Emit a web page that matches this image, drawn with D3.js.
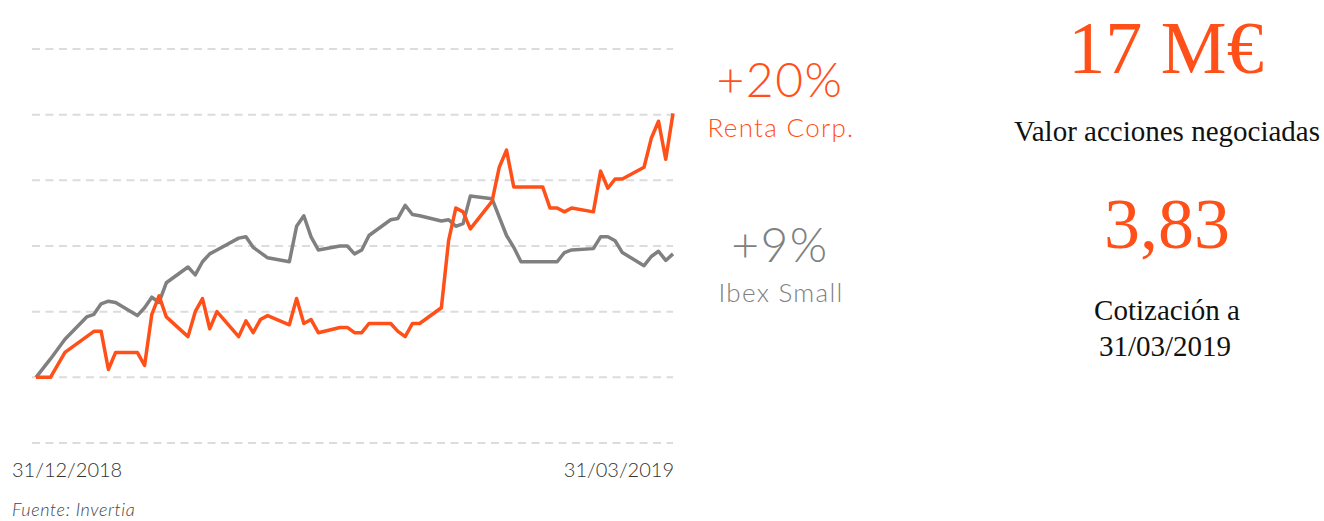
<!DOCTYPE html>
<html>
<head>
<meta charset="utf-8">
<script src="https://cdn.jsdelivr.net/npm/d3@7"></script>
<style>
  body { margin: 0; background: #fff; }
  svg { display: block; }
</style>
</head>
<body>
<div class="visContainer"></div>
<script>
// Data: % change since 31/12/2018 (trading days).
const fechas = ['2018-12-31','2019-01-02','2019-01-04','2019-01-07','2019-01-08','2019-01-09','2019-01-10','2019-01-11',
  '2019-01-14','2019-01-15','2019-01-16','2019-01-17','2019-01-18','2019-01-21','2019-01-22','2019-01-23','2019-01-24','2019-01-25',
  '2019-01-28','2019-01-29','2019-01-30','2019-01-31','2019-02-01','2019-02-04','2019-02-05','2019-02-06','2019-02-07','2019-02-08',
  '2019-02-11','2019-02-12','2019-02-13','2019-02-14','2019-02-15','2019-02-18','2019-02-19','2019-02-20','2019-02-21','2019-02-22',
  '2019-02-25','2019-02-26','2019-02-27','2019-02-28','2019-03-01','2019-03-04','2019-03-05','2019-03-06','2019-03-07','2019-03-08',
  '2019-03-11','2019-03-12','2019-03-13','2019-03-14','2019-03-15','2019-03-18','2019-03-19','2019-03-20','2019-03-21','2019-03-22',
  '2019-03-25','2019-03-26','2019-03-27','2019-03-28','2019-03-29'];

const rentaCorp = [0, 0, 1.9, 3.1, 3.5, 3.5, 0.6, 1.9,
  1.9, 0.9, 4.8, 6.2, 4.6, 3.1, 5.0, 6.0, 3.7, 5.0,
  3.1, 4.3, 3.4, 4.4, 4.7, 4.0, 6.0, 4.1, 4.4, 3.4,
  3.8, 3.8, 3.4, 3.4, 4.1, 4.1, 3.5, 3.1, 4.1, 4.1,
  5.3, 10.4, 12.9, 12.6, 11.3, 13.4, 16.0, 17.3, 14.5, 14.5,
  14.5, 12.9, 12.9, 12.6, 12.9, 12.6, 15.7, 14.4, 15.1, 15.1,
  16.0, 18.2, 19.5, 16.6, 20.1];

const ibexSmall = [0, 1.4, 2.9, 4.6, 4.8, 5.6, 5.8, 5.7,
  4.7, 5.3, 6.1, 5.7, 7.2, 8.4, 7.8, 8.8, 9.4, 9.7,
  10.6, 10.7, 9.9, 9.5, 9.1, 8.8, 11.5, 12.3, 10.7, 9.7,
  10.0, 10.0, 9.4, 9.7, 10.8, 12.0, 12.1, 13.1, 12.4, 12.3,
  11.9, 12.0, 11.5, 11.7, 13.8, 13.6, 12.2, 10.8, 9.9, 8.8,
  8.8, 8.8, 8.8, 9.5, 9.7, 9.8, 10.7, 10.7, 10.4, 9.5,
  8.5, 9.2, 9.6, 8.9, 9.4];

const gridTicks = [-5, 0, 5, 10, 15, 20, 25];
const xLabels = ['31/12/2018', '31/03/2019'];

const naranja = '#ff5019';
const gris = '#808080';

const width = 1324;
const height = 521;

const parse = d3.timeParse('%Y-%m-%d');
const dates = fechas.map(parse);

const xScale = d3.scaleTime()
  .domain(d3.extent(dates))
  .range([36, 673]);

const yScale = d3.scaleLinear()
  .domain([-5, 25])
  .range([443, 49]);

const svg = d3.select('.visContainer')
  .append('svg')
  .attr('width', width)
  .attr('height', height);

// Dashed grid.
svg.append('g')
  .selectAll('line')
  .data(gridTicks)
  .enter()
  .append('line')
  .attr('x1', 32)
  .attr('x2', 673)
  .attr('y1', (d) => yScale(d))
  .attr('y2', (d) => yScale(d))
  .attr('stroke', '#dcdcdc')
  .attr('stroke-width', 2)
  .attr('stroke-dasharray', '8,5.5');

const line = d3.line()
  .x((d, i) => xScale(dates[i]))
  .y((d) => yScale(d));

// Ibex first, Renta Corp on top where they cross.
svg.append('path')
  .datum(ibexSmall)
  .attr('d', line)
  .attr('fill', 'none')
  .attr('stroke', gris)
  .attr('stroke-width', 3.5)
  .attr('stroke-linejoin', 'round');

svg.append('path')
  .datum(rentaCorp)
  .attr('d', line)
  .attr('fill', 'none')
  .attr('stroke', naranja)
  .attr('stroke-width', 3.5)
  .attr('stroke-linejoin', 'round');

// X labels at both ends.
const sans = 'Lato, "Noto Sans", sans-serif';
svg.append('text')
  .attr('x', 12)
  .attr('y', 477)
  .attr('font-family', sans)
  .attr('font-weight', 300)
  .attr('font-size', '20px')
  .attr('fill', '#333')
  .text(xLabels[0]);

svg.append('text')
  .attr('x', 674)
  .attr('y', 477)
  .attr('text-anchor', 'end')
  .attr('font-family', sans)
  .attr('font-weight', 300)
  .attr('font-size', '20px')
  .attr('fill', '#333')
  .text(xLabels[1]);

svg.append('text')
  .attr('x', 12)
  .attr('y', 516)
  .attr('font-family', sans)
  .attr('font-style', 'italic')
  .attr('font-weight', 300)
  .attr('font-size', '18px')
  .attr('letter-spacing', '0.6px')
  .attr('fill', '#444')
  .text('Fuente: Invertia');

// Series labels.
const labels = [
  { big: '+20%', small: 'Renta Corp.', color: naranja, y: 97 },
  { big: '+9%', small: 'Ibex Small', color: gris, y: 262 }
];
labels.forEach((l) => {
  svg.append('text')
    .attr('x', 780)
    .attr('y', l.y)
    .attr('text-anchor', 'middle')
    .attr('font-family', sans)
    .attr('font-weight', 300)
    .attr('font-size', '48px')
    .attr('letter-spacing', '1.5px')
    .attr('fill', l.color)
    .text(l.big);
  svg.append('text')
    .attr('x', 781)
    .attr('y', l.y + 40)
    .attr('text-anchor', 'middle')
    .attr('font-family', sans)
    .attr('font-weight', 300)
    .attr('font-size', '26px')
    .attr('letter-spacing', '1.3px')
    .attr('fill', l.color)
    .text(l.small);
});

// Right panel.
const serif = '"Liberation Serif", "DejaVu Serif", serif';
svg.append('text')
  .attr('x', 1166)
  .attr('y', 73)
  .attr('text-anchor', 'middle')
  .attr('font-family', serif)
  .attr('font-size', '74px')
  .attr('fill', naranja)
  .text('17 M€');

svg.append('text')
  .attr('x', 1167)
  .attr('y', 141)
  .attr('text-anchor', 'middle')
  .attr('font-family', serif)
  .attr('font-size', '29px')
  .attr('fill', '#111')
  .text('Valor acciones negociadas');

svg.append('text')
  .attr('x', 1167)
  .attr('y', 248)
  .attr('text-anchor', 'middle')
  .attr('font-family', serif)
  .attr('font-size', '72px')
  .attr('fill', naranja)
  .text('3,83');

svg.append('text')
  .attr('x', 1167)
  .attr('y', 320)
  .attr('text-anchor', 'middle')
  .attr('font-family', serif)
  .attr('font-size', '29px')
  .attr('fill', '#111')
  .text('Cotización a');

svg.append('text')
  .attr('x', 1165)
  .attr('y', 356)
  .attr('text-anchor', 'middle')
  .attr('font-family', serif)
  .attr('font-size', '29px')
  .attr('fill', '#111')
  .text('31/03/2019');
</script>
</body>
</html>
